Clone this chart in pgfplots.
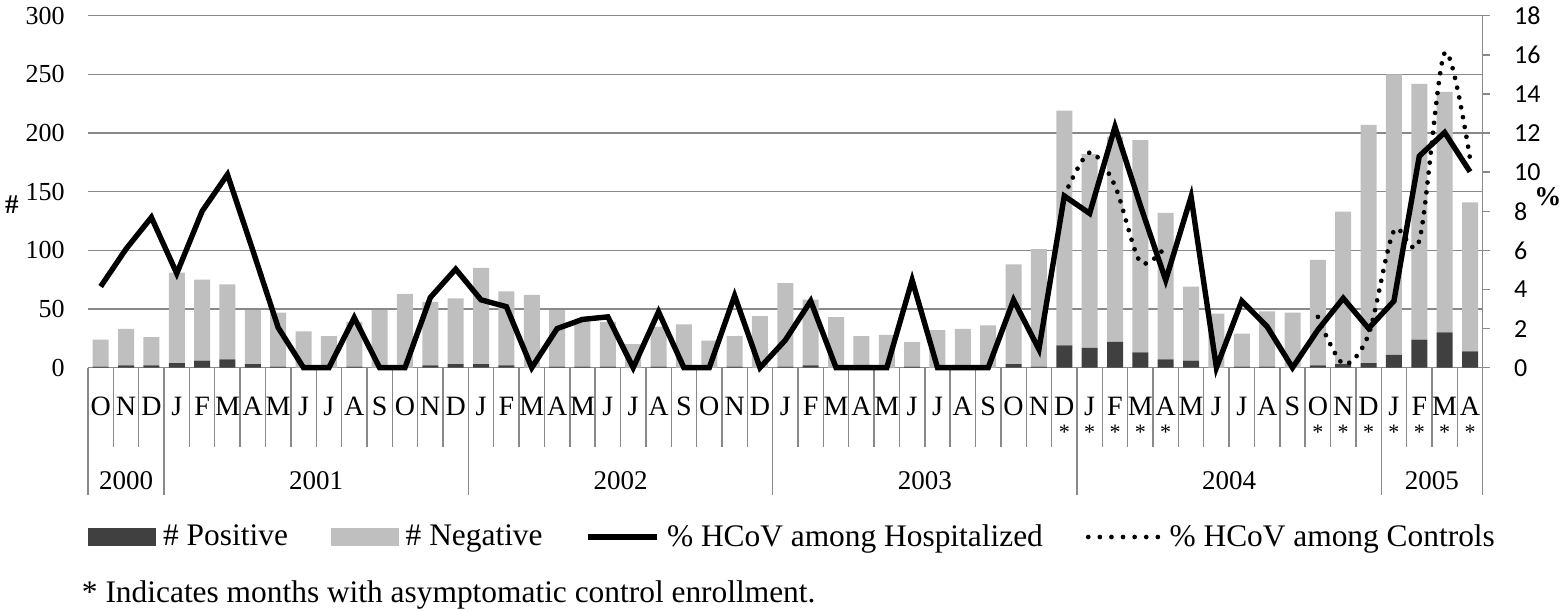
\documentclass[border=0pt]{standalone}
\usepackage{fontspec}
\setmainfont{Liberation Serif}
\newfontfamily\calibri{Carlito}
\usepackage{pgfplots}
\pgfplotsset{compat=1.18}
\usepackage{pgfplotstable}

\definecolor{posdark}{HTML}{404040}
\definecolor{neggray}{HTML}{BFBFBF}
\definecolor{gridgray}{HTML}{898989}

\pgfplotstableread{
i pos neg hosp
0 1 23 4.15
1 2 31 6.07
2 2 24 7.69
3 4 77 4.82
4 6 69 8.00
5 7 64 9.88
6 3 46 6.00
7 1 46 2.05
8 0 31 0
9 0 27 0
10 1 38 2.56
11 0 49 0
12 0 63 0
13 2 54 3.59
14 3 56 5.04
15 3 82 3.47
16 2 63 3.12
17 0 62 0
18 1 48 2.00
19 1 40 2.47
20 1 38 2.60
21 0 20 0
22 1 34 2.86
23 0 37 0
24 0 23 0
25 1 26 3.68
26 0 44 0
27 1 71 1.41
28 2 56 3.41
29 0 43 0
30 0 27 0
31 0 28 0
32 1 21 4.48
33 0 32 0
34 0 33 0
35 0 36 0
36 3 85 3.46
37 1 100 0.94
38 19 200 8.78
39 17 165 7.89
40 22 175 12.32
41 13 181 8.30
42 7 125 4.48
43 6 63 8.74
44 0 46 0
45 1 28 3.41
46 1 47 2.10
47 0 47 0
48 2 90 1.93
49 3 130 3.55
50 4 203 2.01
51 11 239 3.41
52 24 218 10.82
53 30 205 12.03
54 14 127 10.02
}\data

\begin{document}
\begin{tikzpicture}
\useasboundingbox (0,0) rectangle (780pt,305.5pt);
\begin{axis}[
  at={(44pt,121.65pt)}, anchor=south west,
  scale only axis, width=697.35pt, height=176pt,
  xmin=-0.5, xmax=54.5, ymin=0, ymax=300,
  ybar stacked, bar width=8pt,
  axis x line*=bottom, axis y line*=left,
  y axis line style={draw=none},
  x axis line style={draw=gridgray, line width=0.7pt, -},
  ytick={0,50,...,300},
  ymajorgrids, grid style={draw=gridgray, line width=0.7pt},
  major tick length=0pt,
  major y tick style={draw=none},
  major x tick style={draw=none},
  xtick={0,...,54},
  xticklabels={O,N,D,J,F,M,A,M,J,J,A,S,O,N,D,J,F,M,A,M,J,J,A,S,O,N,D,J,F,M,A,M,J,J,A,S,O,N,D,J,F,M,A,M,J,J,A,S,O,N,D,J,F,M,A},
  minor xtick={-0.5,0.5,...,54.5},
  minor tick length=39.6pt,
  minor x tick style={draw=gridgray, line width=0.7pt},
  tick align=outside,
  xticklabel style={anchor=base, yshift=-23.8pt, inner sep=0pt, font=\fontsize{14}{16}\selectfont},
  yticklabel style={anchor=east, xshift=-11.5pt, inner sep=0pt, font=\fontsize{13}{15}\selectfont},
  /pgf/number format/assume math mode=true,
  extra x ticks={38,39,40,41,42,48,49,50,51,52,53,54},
  extra x tick labels={*,*,*,*,*,*,*,*,*,*,*,*},
  extra x tick style={xticklabel style={yshift=-12.0pt, font=\fontsize{11}{13}\selectfont}},
  clip=false,
]
\addplot[fill=posdark, draw=none] table[x=i, y=pos]{\data};
\addplot[fill=neggray, draw=none] table[x=i, y=neg]{\data};
\end{axis}

\begin{axis}[
  at={(44pt,121.65pt)}, anchor=south west,
  scale only axis, width=697.35pt, height=176pt,
  xmin=-0.5, xmax=54.5, ymin=0, ymax=18,
  axis y line*=right, axis x line*=bottom,
  x axis line style={draw=none},
  y axis line style={draw=gridgray, line width=0.7pt, -},
  ytick={0,2,...,18},
  major tick length=3.5pt,
  tick align=outside,
  major y tick style={draw=gridgray, line width=0.7pt},
  major x tick style={draw=none},
  xtick={1,8.5,20.5,32.5,44.5,52.5},
  xticklabels={2000,2001,2002,2003,2004,2005},
  minor xtick={-0.5,2.5,14.5,26.5,38.5,50.5,54.5},
  minor tick length=63.65pt,
  minor x tick style={draw=gridgray, line width=0.7pt},
  xticklabel style={anchor=base, yshift=-57.2pt, inner sep=0pt, font=\fontsize{13.5}{16}\selectfont},
  yticklabel style={anchor=west, xshift=12pt, inner sep=0pt, font=\calibri\fontsize{13}{15}\selectfont},
  /pgf/number format/assume math mode=true,
  legend columns=4,
  legend style={at={(axis description cs:0,-0.481)}, anchor=west, draw=none, fill=none, inner sep=0pt,
    font=\fontsize{15.7}{18}\selectfont, nodes={inner sep=0pt},
    /tikz/every odd column/.append style={column sep=3.5pt},
    /tikz/every even column/.append style={column sep=21.5pt}},
  clip=false,
]
\addlegendimage{legend image code/.code={\fill[posdark] (0pt,-4.15pt) rectangle (33.5pt,4.15pt);}}
\addlegendentry{\# Positive}
\addlegendimage{legend image code/.code={\fill[neggray] (0pt,-4.15pt) rectangle (33.5pt,4.15pt);}}
\addlegendentry{\# Negative}
\addplot[black, line width=2.7pt, line join=miter, mark=none,
  legend image code/.code={\draw[black, line width=2.7pt] (0pt,0pt) -- (34.5pt,0pt);}]
  table[x=i, y=hosp]{\data};
\addlegendentry{\% HCoV among Hospitalized}
\addplot[black, line width=2.35pt, line cap=round, dash pattern=on 0pt off 5pt, smooth, tension=0.5, mark=none,
  legend image code/.code={\draw[black, line width=2.35pt, line cap=round, dash pattern=on 0pt off 5.8pt] (0pt,0pt) -- (36pt,0pt);}]
  coordinates {(38,8.8) (39,11.0) (40,9.3) (41,5.4) (42,6.2)};
\addlegendentry{\% HCoV among Controls}
\addplot[black, line width=2.35pt, line cap=round, dash pattern=on 0pt off 5pt, smooth, tension=0.5, mark=none, forget plot]
  coordinates {(48,2.6) (49,0.2) (50,1.7) (51,7.0) (52,6.5) (53,16.1) (54,10.7)};
\node[font=\bfseries\fontsize{13.5}{16}\selectfont] at (axis description cs:-0.0545,0.4622) {\#};
\node[font=\bfseries\fontsize{13.5}{16}\selectfont] at (axis description cs:1.0468,0.485) {\%};
\node[anchor=west, inner sep=0pt, font=\fontsize{15.7}{18}\selectfont] at (axis description cs:-0.00459,-0.6455) {* Indicates months with asymptomatic control enrollment.};
\end{axis}
\end{tikzpicture}
\end{document}
